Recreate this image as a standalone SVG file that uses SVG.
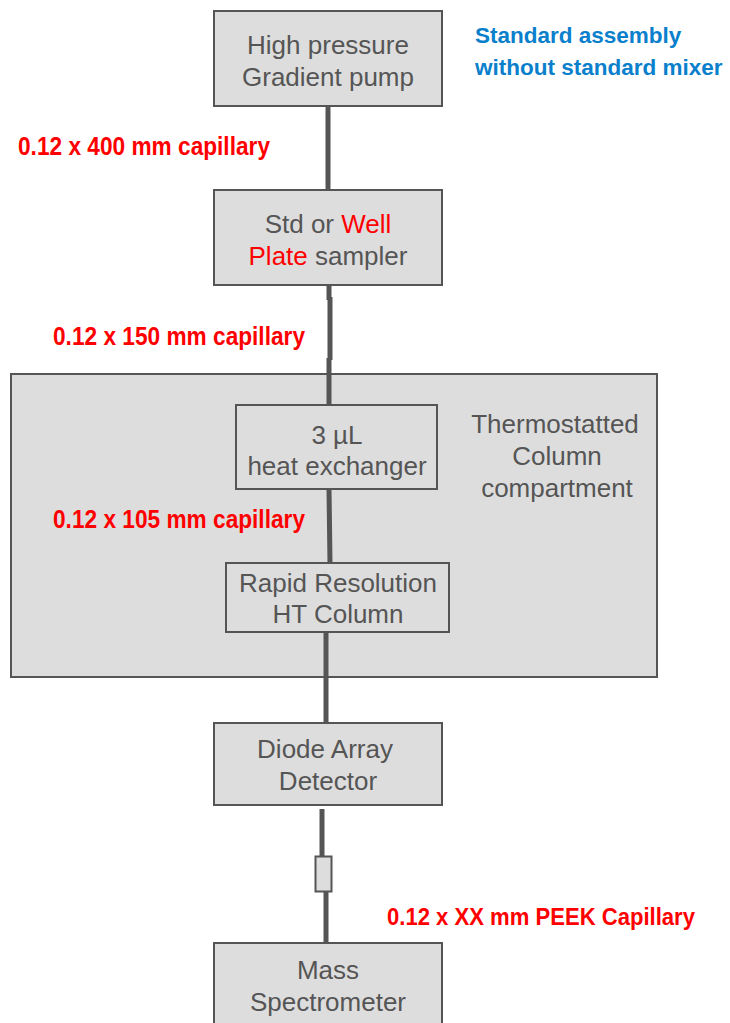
<svg xmlns="http://www.w3.org/2000/svg" width="730" height="1023" viewBox="0 0 730 1023">
<style>
.box{fill:#dddddd;stroke:#555555;stroke-width:2}
.t{font-family:"Liberation Sans",Arial,sans-serif;font-size:26px;fill:#555555;text-anchor:middle}
.red{fill:#ff0000}
.lbl{font-family:"Liberation Sans",Arial,sans-serif;font-weight:bold;font-size:25px;fill:#ff0000}
.lbl2{font-family:"Liberation Sans",Arial,sans-serif;font-weight:bold;font-size:23px;fill:#ff0000}
.blue{font-family:"Liberation Sans",Arial,sans-serif;font-weight:bold;font-size:22.5px;fill:#0a7fcc}
.cap{stroke:#555555;stroke-width:5;fill:none}
</style>
<rect width="730" height="1023" fill="#ffffff"/>
<g id="tcc">
<rect class="box" x="11" y="374" width="646" height="303"/>
<text class="t" x="555" y="433">Thermostatted</text>
<text class="t" x="557" y="465">Column</text>
<text class="t" x="557" y="497">compartment</text>
</g>
<g id="connectors">
<line class="cap" x1="328" y1="106" x2="328" y2="190"/>
<line class="cap" x1="329" y1="285" x2="329" y2="300"/>
<line class="cap" x1="330" y1="297" x2="330" y2="360"/>
<line class="cap" x1="329" y1="358" x2="329" y2="405"/>
<line class="cap" x1="329" y1="489" x2="330" y2="563"/>
<line class="cap" x1="326" y1="632" x2="326" y2="723"/>
<line class="cap" x1="322" y1="809" x2="322" y2="857"/>
<line class="cap" x1="326" y1="892" x2="326" y2="943"/>
</g>
<g id="peek-union">
<rect x="315.5" y="856.5" width="16" height="35" fill="#dddddd" stroke="#555555" stroke-width="2"/>
</g>
<g id="pump">
<rect class="box" x="214" y="11" width="228" height="95"/>
<text class="t" x="328" y="54">High pressure</text>
<text class="t" x="328" y="86">Gradient pump</text>
</g>
<g id="sampler">
<rect class="box" x="214" y="190" width="228" height="95"/>
<text class="t" x="328" y="233">Std or <tspan class="red">Well</tspan></text>
<text class="t" x="328" y="265"><tspan class="red">Plate</tspan> sampler</text>
</g>
<g id="heat-exchanger">
<rect class="box" x="236" y="405" width="201" height="84"/>
<text class="t" x="337" y="444">3 µL</text>
<text class="t" x="337" y="475">heat exchanger</text>
</g>
<g id="column">
<rect class="box" x="226" y="563" width="223" height="69"/>
<text class="t" x="338" y="592">Rapid Resolution</text>
<text class="t" x="338" y="623">HT Column</text>
</g>
<g id="dad">
<rect class="box" x="214" y="723" width="228" height="82"/>
<text class="t" x="325" y="758">Diode Array</text>
<text class="t" x="328" y="790">Detector</text>
</g>
<g id="ms">
<rect class="box" x="214" y="943" width="228" height="90"/>
<text class="t" x="328" y="979">Mass</text>
<text class="t" x="328" y="1011">Spectrometer</text>
</g>
<g id="labels">
<text class="blue" x="475" y="43">Standard assembly</text>
<text class="blue" x="475" y="75">without standard mixer</text>
<text class="lbl" x="18" y="155" textLength="252" lengthAdjust="spacingAndGlyphs">0.12 x 400 mm capillary</text>
<text class="lbl" x="53" y="345" textLength="252" lengthAdjust="spacingAndGlyphs">0.12 x 150 mm capillary</text>
<text class="lbl" x="53" y="528" textLength="252" lengthAdjust="spacingAndGlyphs">0.12 x 105 mm capillary</text>
<text class="lbl2" x="387" y="925" textLength="308" lengthAdjust="spacingAndGlyphs">0.12 x XX mm PEEK Capillary</text>
</g>
</svg>
